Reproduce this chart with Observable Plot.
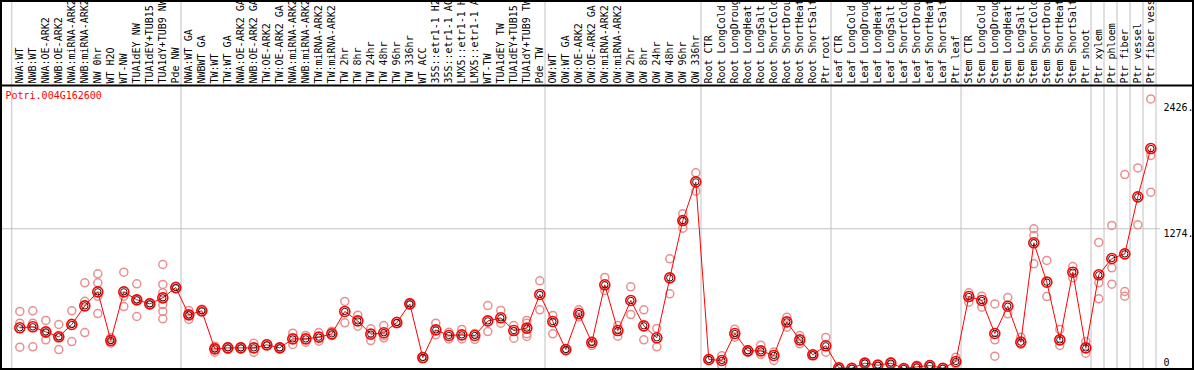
<!DOCTYPE html>
<html><head><meta charset="utf-8">
<script src="https://cdn.jsdelivr.net/npm/d3@7"></script>
<script src="https://cdn.jsdelivr.net/npm/@observablehq/plot@0.6"></script>
<style>
body{margin:0;background:#fff}
#wrap{position:relative;width:1194px;height:370px;overflow:hidden}
#border{position:absolute;left:0;top:0;width:1194px;height:370px;box-sizing:border-box;border:2px solid #000;pointer-events:none}
</style></head>
<body><div id="wrap"><div id="chart"></div><div id="border"></div></div>
<script>
const geneId = "Potri.004G162600";

const labels = [
 "NWA:WT","NWB:WT","NWA:OE-ARK2","NWB:OE-ARK2","NWA:miRNA-ARK2","NWB:miRNA-ARK2","NW 0hr","WT H2O","WT-NW","TUA1dEY NW","TUA1dEY+TUB15","TUA1dY+TUB9 NW","Pde NW",
 "NWA:WT GA","NWBWT GA","TW:WT","TW:WT GA","NWA:OE-ARK2 GA","NWB:OE-ARK2 GA","TW:OE-ARK2","TW:OE-ARK2 GA","NWA:miRNA-ARK2","NWB:miRNA-ARK2","TW:miRNA-ARK2","TW:miRNA-ARK2","TW 2hr","TW 8hr","TW 24hr","TW 48hr","TW 96hr","TW 336hr","WT ACC","35S::etr1-1 H2","35S::etr1-1 AC","LMX5::etr1-1 H","LMX5::etr1-1 A","WT-TW","TUA1dEY TW","TUA1dEY+TUB15","TUA1dY+TUB9 TW","Pde TW",
 "OW:WT","OW:WT GA","OW:OE-ARK2","OW:OE-ARK2 GA","OW:miRNA-ARK2","OW:miRNA-ARK2","OW 2hr","OW 8hr","OW 24hr","OW 48hr","OW 96hr","OW 336hr",
 "Root CTR","Root LongCold","Root LongDroug","Root LongHeat","Root LongSalt","Root ShortCold","Root ShortDrou","Root ShortHeat","Root ShortSalt","Ptr root",
 "Leaf CTR","Leaf LongCold","Leaf LongDroug","Leaf LongHeat","Leaf LongSalt","Leaf ShortCold","Leaf ShortDrou","Leaf ShortHeat","Leaf ShortSalt","Ptr leaf",
 "Stem CTR","Stem LongCold","Stem LongDroug","Stem LongHeat","Stem LongSalt","Stem ShortCold","Stem ShortDrou","Stem ShortHeat","Stem ShortSalt","Ptr shoot",
 "Ptr xylem","Ptr phloem","Ptr fiber","Ptr vessel","Ptr fiber vess"
];

// sizes of the sample groups (separated by grey lines)
const groupSizes = [13, 28, 12, 10, 10, 10, 1, 1, 1, 1, 1];

const means = [
 371,380,334,289,401,571,699,255,699,626,589,644,738,
 489,526,179,188,188,188,216,188,270,270,286,316,520,434,313,326,419,589,100,352,301,307,301,434,462,346,368,675,
 428,173,501,237,763,346,620,389,280,826,1349,1701,
 82,73,319,161,161,119,425,261,125,207,
 6,2,49,30,49,0,15,27,2,64,
 656,620,319,568,240,1146,787,261,878,188,
 854,1003,1045,1565,2005
];

const reps = [
 [520,413,194],[526,413,198],[438,320,261],[401,292,173],[526,413,246],[781,613,328],[863,781,659,501],[280,231,262],[878,659,565],[772,474,630],[600,580],[948,766,690,583,520,453],[750,725],
 [529,447,490],[540,515],[203,149,185],[200,175],[198,178],[231,149],[225,205],[195,180],[322,219],[301,240],[328,249],[340,300],[611,416],[486,386],[362,255],[392,300,280],[430,410],[600,580],[110,90],[413,307],[331,270],[356,270],[320,265],[574,337],[529,413],[392,276],[438,413,316,292],[799,535],
 [483,316],[180,160],[535,470],[250,210],[830,711],[392,295],[745,492],[535,261],[365,198],[1000,681],[1410,1279,1350],[1784,1616],
 [90,75],[116,27],[358,286],[170,150],[213,128],[150,73],[468,377],[300,225],[130,120],[283,149],
 [10,2],[5,0],[55,45],[40,20],[60,35],[5,0],[30,5],[35,20],[5,0],[103,40],
 [690,605],[659,559],[589,261,112],[647,498],[286,220],[1273,1212,954],[985,656],[356,210],[930,827],[246,140],
 [1149,781,635],[1304,918,769],[1768,702,659],[1829,1310],[2458,1942,1607]
];

const yTicks = [0, 1274, 2426];
const yTickLabels = ["0", "1274.", "2426."];
const yMax = 2580;

const pts = means.map((m, i) => ({i, m}));
const repPts = reps.flatMap((arr, i) => arr.map(v => ({i, v})));
let acc = 0;
const bounds = [-0.62];
for (const s of groupSizes) { acc += s; bounds.push(acc - 0.6); }

const chart = Plot.plot({
  width: 1194, height: 370,
  marginTop: 85, marginBottom: 2, marginLeft: 0, marginRight: 34,
  style: {fontFamily: "'DejaVu Sans Mono', monospace", fontSize: "10px", background: "white", color: "black"},
  x: {domain: [-1.4846, 87.746]},
  y: {domain: [0, yMax]},
  marks: [
    Plot.ruleX(bounds, {stroke: "#c0c0c0", strokeWidth: 1, insetTop: -85}),
    Plot.ruleY([yTicks[1]], {stroke: "#c0c0c0", strokeWidth: 1}),
    Plot.ruleY([yMax], {stroke: "black", strokeWidth: 2, insetRight: -34}),
    Plot.axisX(d3.range(labels.length), {anchor: "top", tickSize: 0, tickPadding: 2, tickRotate: -90, tickFormat: i => labels[i], label: null, fill: "black"}),
    Plot.axisY(yTicks.slice(1), {anchor: "right", tickSize: 0, tickPadding: 3, dy: 5, tickFormat: d => yTickLabels[yTicks.indexOf(d)], label: null}),
    Plot.axisY([yTicks[0]], {anchor: "right", tickSize: 0, tickPadding: 3, dy: -6, tickFormat: d => yTickLabels[yTicks.indexOf(d)], label: null}),
    Plot.text([geneId], {frameAnchor: "top-left", dx: 5, dy: 6, lineAnchor: "top", textAnchor: "start", fill: "red"}),
    Plot.dot(repPts, {x: "i", y: "v", r: 4, stroke: "#e89090", strokeWidth: 1.5, fill: "none"}),
    Plot.line(pts, {x: "i", y: "m", stroke: "red", strokeWidth: 1}),
    Plot.dot(pts, {x: "i", y: "m", r: 5, stroke: "red", strokeWidth: 1.6, fill: "none"}),
    Plot.dot(pts, {x: "i", y: "m", r: 3.2, stroke: "black", strokeWidth: 0.9, fill: "none"})
  ]
});
document.getElementById("chart").appendChild(chart);
</script>
</body></html>
